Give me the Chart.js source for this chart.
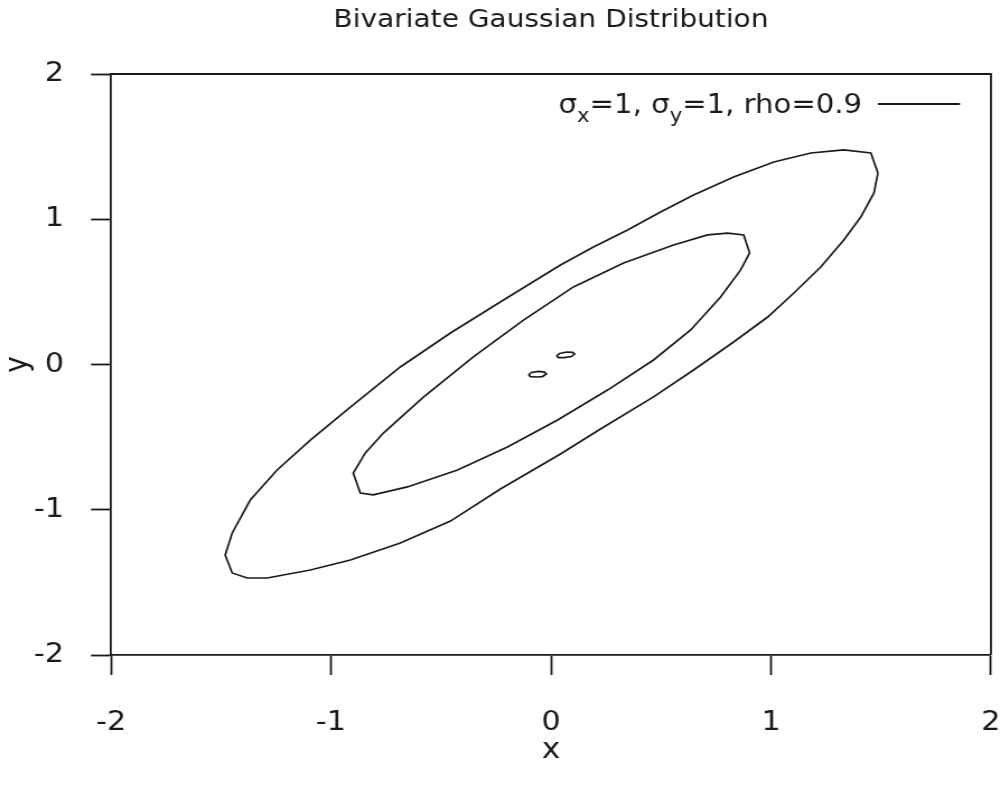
<!DOCTYPE html>
<html>
<head>
<meta charset="utf-8">
<script src="https://cdn.jsdelivr.net/npm/chart.js@4.4.1/dist/chart.umd.min.js"></script>
<style>
  html, body { margin: 0; padding: 0; background: #fff; overflow: hidden; }
  /* the reference is a gnuplot picture stretched sideways, so the chart is drawn narrow and scaled */
  #wrap { width: 893px; height: 789px; transform: scaleX(1.1198); transform-origin: 0 0; }
</style>
</head>
<body>
<div id="wrap"><canvas id="chart"></canvas></div>
<script>
// contour lines of the bivariate gaussian as [x, y]
const OUTER = [
  [1.486, 1.318], [1.454, 1.456], [1.331, 1.477], [1.181, 1.456], [1.013, 1.394],
  [0.830, 1.291], [0.648, 1.167], [0.498, 1.050], [0.348, 0.926], [0.193, 0.809],
  [0.043, 0.685], [-0.216, 0.444], [-0.457, 0.217], [-0.685, -0.017], [-0.912, -0.293],
  [-1.094, -0.520], [-1.245, -0.726], [-1.367, -0.933], [-1.449, -1.160], [-1.481, -1.312],
  [-1.449, -1.435], [-1.381, -1.470], [-1.290, -1.470], [-1.094, -1.415], [-0.912, -1.346],
  [-0.685, -1.229], [-0.457, -1.078], [-0.230, -0.857], [0.043, -0.616], [0.225, -0.444],
  [0.466, -0.223], [0.648, -0.038], [0.830, 0.155], [0.985, 0.327], [1.104, 0.492],
  [1.226, 0.671], [1.331, 0.857], [1.408, 1.015], [1.468, 1.181]
];
const INNER = [
  [0.903, 0.768], [0.876, 0.892], [0.803, 0.905], [0.712, 0.892], [0.557, 0.823],
  [0.330, 0.699], [0.102, 0.534], [-0.125, 0.306], [-0.353, 0.052], [-0.580, -0.224],
  [-0.762, -0.472], [-0.844, -0.609], [-0.899, -0.747], [-0.867, -0.885], [-0.808, -0.898],
  [-0.653, -0.843], [-0.425, -0.726], [-0.198, -0.568], [0.030, -0.382], [0.257, -0.176],
  [0.466, 0.031], [0.635, 0.238], [0.771, 0.465], [0.862, 0.651]
];
// the two tiny loops near the peak
const PEAK_A = [
  [0.025, 0.058], [0.039, 0.076], [0.071, 0.086], [0.098, 0.083],
  [0.107, 0.072], [0.093, 0.055], [0.061, 0.048], [0.034, 0.048]
];
const PEAK_B = [
  [-0.102, -0.072], [-0.089, -0.055], [-0.057, -0.048], [-0.030, -0.052],
  [-0.021, -0.065], [-0.039, -0.083], [-0.066, -0.086], [-0.093, -0.083]
];

const X_TICKS = [-2, -1, 0, 1, 2];
const Y_TICKS = [-2, -1, 0, 1, 2];
const TITLE = 'Bivariate Gaussian Distribution';
// key text, split so the subscripts can be drawn smaller
const KEY_PARTS = [['σ', 0], ['x', 1], ['=1, σ', 0], ['y', 1], ['=1, rho=0.9', 0]];

const SX = 893 / 1000;   // reference px -> canvas px, horizontal only
const INK = '#1a1a1a';
const FONT = "'DejaVu Sans', sans-serif";

Chart.defaults.font.family = FONT;
Chart.defaults.color = INK;

function closed(pts) {
  const d = pts.map(([x, y]) => ({ x, y }));
  d.push({ x: pts[0][0], y: pts[0][1] });
  return d;
}

function line(pts) {
  return {
    data: closed(pts),
    showLine: true,
    borderColor: INK,
    borderWidth: 1.7,
    pointRadius: 0,
    tension: 0,
  };
}

// gnuplot style frame plus the key in the upper right
const frameAndKey = {
  id: 'frameAndKey',
  afterDraw(chart) {
    const { ctx, chartArea: a } = chart;
    ctx.save();
    ctx.strokeStyle = INK;
    ctx.lineWidth = 1.8;
    ctx.beginPath();
    ctx.moveTo(a.left, a.top);
    ctx.lineTo(a.right, a.top);
    ctx.lineTo(a.right, a.bottom);
    ctx.stroke();

    const lineR = a.right - 31 * SX;
    const lineL = a.right - 113 * SX;
    const textR = a.right - 129 * SX;
    const lineY = a.top + 30;
    const base = a.top + 39;

    ctx.beginPath();
    ctx.moveTo(lineL, lineY);
    ctx.lineTo(lineR, lineY);
    ctx.stroke();

    const fonts = ['26px ' + FONT, '19px ' + FONT];
    let total = 0;
    for (const [t, sub] of KEY_PARTS) {
      ctx.font = fonts[sub];
      total += ctx.measureText(t).width;
    }
    let x = textR - total;
    ctx.fillStyle = INK;
    ctx.textAlign = 'left';
    ctx.textBaseline = 'alphabetic';
    for (const [t, sub] of KEY_PARTS) {
      ctx.font = fonts[sub];
      ctx.fillText(t, x, sub ? base + 9 : base);
      x += ctx.measureText(t).width;
    }
    ctx.restore();
  }
};

new Chart(document.getElementById('chart'), {
  type: 'scatter',
  data: {
    datasets: [line(OUTER), line(INNER), line(PEAK_A), line(PEAK_B)]
  },
  options: {
    responsive: true,
    maintainAspectRatio: false,
    animation: false,
    layout: { padding: { left: 0, right: 9 * SX, top: 0, bottom: 0 } },
    plugins: {
      legend: { display: false },
      tooltip: { enabled: false },
      title: {
        display: true,
        text: TITLE,
        fullSize: false,
        color: INK,
        font: { size: 25, weight: 'normal' },
        padding: { top: 5.5, bottom: 38.5 }
      }
    },
    scales: {
      x: {
        type: 'linear',
        min: -2, max: 2,
        afterBuildTicks: s => { s.ticks = X_TICKS.map(v => ({ value: v })); },
        afterFit: s => { s.height = 134; s.paddingLeft = 0; s.paddingRight = 0; },
        grid: { display: true, drawOnChartArea: false, drawTicks: true, tickLength: 20, tickWidth: 1.8, tickColor: INK },
        border: { display: true, color: INK, width: 1.8 },
        ticks: { font: { size: 27 }, color: INK, padding: 32, maxRotation: 0 },
        title: { display: true, text: 'x', color: INK, font: { size: 28 }, padding: { top: 0, bottom: 21 } }
      },
      y: {
        type: 'linear',
        min: -2, max: 2,
        afterBuildTicks: s => { s.ticks = Y_TICKS.map(v => ({ value: v })); },
        afterFit: s => { s.width = 111 * SX; s.paddingTop = 0; s.paddingBottom = 0; },
        grid: { display: true, drawOnChartArea: false, drawTicks: true, tickLength: 20 * SX, tickWidth: 1.8, tickColor: INK },
        border: { display: true, color: INK, width: 1.8 },
        ticks: { font: { size: 27 }, color: INK, padding: 24 },
        title: { display: true, text: 'y', color: INK, font: { size: 28 }, padding: { top: 0, bottom: 0 } }
      }
    }
  },
  plugins: [frameAndKey]
});
</script>
</body>
</html>
